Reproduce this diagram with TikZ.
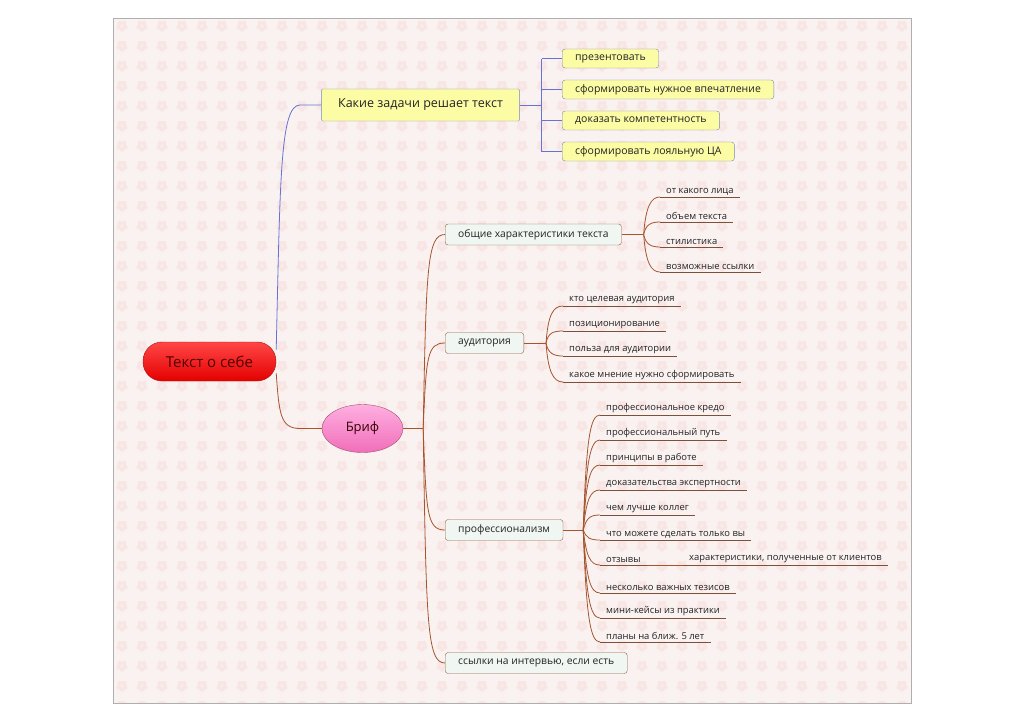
\documentclass[tikz,border=0pt]{standalone}
\usepackage{fontspec}
\setmainfont{Open Sans}
\usetikzlibrary{shapes.geometric,calc}
\definecolor{bgpink}{RGB}{250,242,241}
\definecolor{petal}{RGB}{248,230,229}
\definecolor{framegray}{RGB}{175,175,175}
\definecolor{bluecon}{RGB}{100,115,215}
\definecolor{browncon}{RGB}{165,85,45}
\definecolor{ulcol}{RGB}{125,80,60}
\definecolor{yellowfill}{RGB}{252,252,165}
\definecolor{yellowborder}{RGB}{125,135,175}
\definecolor{mintfill}{RGB}{240,247,242}
\definecolor{boxborder}{RGB}{150,95,65}
\definecolor{txt}{RGB}{35,35,35}
\definecolor{roottop}{RGB}{255,70,70}
\definecolor{rootbot}{RGB}{228,0,0}
\definecolor{rootborder}{RGB}{170,20,20}
\definecolor{roottext}{RGB}{80,0,0}
\definecolor{pinktop}{RGB}{255,175,225}
\definecolor{pinkbot}{RGB}{240,110,185}
\definecolor{pinkborder}{RGB}{160,80,110}
\begin{document}
\begin{tikzpicture}[x=1pt,y=-1pt,
  rootnode/.style={rounded corners=19pt, minimum width=133pt, minimum height=39pt,
    draw=rootborder, top color=roottop, bottom color=rootbot, text=roottext,
    font=\fontsize{15}{17}\selectfont, inner sep=0pt},
  briefnode/.style={ellipse, minimum width=81pt, minimum height=48pt, inner sep=0pt,
    draw=pinkborder, top color=pinktop, bottom color=pinkbot, text=black!80!red,
    font=\fontsize{13}{15}\selectfont},
  mainbox/.style={rounded corners=1pt, draw=yellowborder, fill=yellowfill, text=txt,
    minimum height=32pt, inner xsep=16.5pt, font=\fontsize{12.5}{14}\selectfont},
  ybox/.style={rounded corners=3pt, draw=yellowborder, fill=yellowfill, text=txt,
    minimum height=19pt, inner xsep=13pt, inner ysep=0pt, anchor=west,
    font=\fontsize{10.5}{12}\selectfont},
  gbox/.style={rounded corners=3pt, draw=boxborder, fill=mintfill, text=txt,
    minimum height=21pt, inner xsep=13pt, inner ysep=0pt, anchor=west,
    font=\fontsize{10.3}{12}\selectfont},
  lbl/.style={anchor=south west, inner xsep=6pt, inner ysep=2pt, text=txt,
    font=\fontsize{9.4}{11}\selectfont},
  bcon/.style={draw=bluecon, line width=0.8pt},
  rcon/.style={draw=browncon, line width=0.8pt},
  ul/.style={draw=ulcol, line width=0.8pt}
]
\useasboundingbox (0,0) rectangle (1024,723);
\fill[white] (0,0) rectangle (1024,723);
\fill[bgpink] (113,18) rectangle (911,703);
\begin{scope}
  \clip (113,18) rectangle (911,703);
  \foreach \i in {0,...,40} {
    \foreach \j in {0,...,34} {
      \fill[petal] \foreach \k in {0,...,4} {([shift={(\k*72+90:3.3)}]{122+\i*20},{26+\j*20}) circle (2.5)};
    }
  }
\end{scope}
\draw[framegray] (113,18) rectangle (911,703);

% nodes
\node[rootnode] (root) at (209.5,361.5) {Текст о себе};
\node[mainbox] (q) at (420.5,105) {Какие задачи решает текст};
\node[ybox] (y1) at (562,58.5) {презентовать};
\node[ybox] (y2) at (562,89.5) {сформировать нужное впечатление};
\node[ybox] (y3) at (562,120.5) {доказать компетентность};
\node[ybox] (y4) at (562,151.5) {сформировать лояльную ЦА};

\node[briefnode] (b) at (362.5,428.5) {Бриф};
\node[gbox] (c1) at (445,234.5) {общие характеристики текста};
\node[gbox] (c2) at (445,343) {аудитория};
\node[gbox] (c3) at (445,530) {профессионализм};
\node[gbox] (c4) at (445,663) {ссылки на интервью, если есть};

\node[lbl] (a1) at (660,197) {от какого лица};
\node[lbl] (a2) at (660,222) {объем текста};
\node[lbl] (a3) at (660,247) {стилистика};
\node[lbl] (a4) at (660,272) {возможные ссылки};

\node[lbl] (d1) at (563,306) {кто целевая аудитория};
\node[lbl] (d2) at (563,331) {позиционирование};
\node[lbl] (d3) at (563,356) {польза для аудитории};
\node[lbl] (d4) at (563,382) {какое мнение нужно сформировать};

\node[lbl] (p1) at (600,415) {профессиональное кредо};
\node[lbl] (p2) at (600,440) {профессиональный путь};
\node[lbl] (p3) at (600,465) {принципы в работе};
\node[lbl] (p4) at (600,490) {доказательства экспертности};
\node[lbl] (p5) at (600,515) {чем лучше коллег};
\node[lbl] (p6) at (600,540) {что можете сделать только вы};
\node[lbl] (p7) at (600,565) {отзывы};
\node[lbl] (p7a) at (683,565) {характеристики, полученные от клиентов};
\node[lbl] (p8) at (600,593) {несколько важных тезисов};
\node[lbl] (p9) at (600,618) {мини-кейсы из практики};
\node[lbl] (p10) at (600,642) {планы на ближ. 5 лет};

% underlines
\foreach \n in {a1,a2,a3,a4,d1,d2,d3,d4,p1,p2,p3,p4,p5,p6,p7,p7a,p8,p9,p10}
  \draw[ul] (\n.south west) -- (\n.south east);

% root connectors
\coordinate (qk) at (300,105);
\draw[bcon] (root.10) .. controls +(4,-170) and +(-20,0) .. (qk) -- (q.west);
\coordinate (bk) at (300,428.5);
\draw[rcon] (root.-10) .. controls +(3,40) and +(-20,0) .. (bk) -- (b.west);

% top branch
\draw[bcon] (q.east) -- ++(22,0) coordinate (qj);
\draw[bcon] (qj |- y1.west) -- (qj |- y4.west);
\foreach \n in {y1,y2,y3,y4}
  \draw[bcon] (qj |- \n.west) -- (\n.west);

% brief branch
\draw[rcon] (b.east) -- ++(20,0) coordinate (bj);
\draw[rcon] (bj) .. controls +(3,-160) and +(-18,0) .. (c1.west);
\draw[rcon] (bj) .. controls +(3,-72) and +(-18,0) .. (c2.west);
\draw[rcon] (bj) .. controls +(3,85) and +(-18,0) .. (c3.west);
\draw[rcon] (bj) .. controls +(3,195) and +(-18,0) .. (c4.west);

% общие
\draw[rcon] (c1.east) -- ++(22,0) coordinate (c1j);
\draw[rcon] (c1j) .. controls +(2,-28) and +(-9,0) .. (a1.south west);
\draw[rcon] (c1j) .. controls +(2,-10) and +(-9,0) .. (a2.south west);
\draw[rcon] (c1j) .. controls +(2,10) and +(-9,0) .. (a3.south west);
\draw[rcon] (c1j) .. controls +(2,28) and +(-9,0) .. (a4.south west);

% аудитория
\draw[rcon] (c2.east) -- ++(22,0) coordinate (c2j);
\draw[rcon] (c2j) .. controls +(2,-28) and +(-10,0) .. (d1.south west);
\draw[rcon] (c2j) .. controls +(2,-10) and +(-10,0) .. (d2.south west);
\draw[rcon] (c2j) .. controls +(2,10) and +(-10,0) .. (d3.south west);
\draw[rcon] (c2j) .. controls +(2,28) and +(-10,0) .. (d4.south west);

% профессионализм
\draw[rcon] (c3.east) -- ++(20,0) coordinate (c3j);
\foreach \n/\d in {p1/-90,p2/-68,p3/-50,p4/-30,p5/-12,p6/8,p7/26,p8/48,p9/66,p10/85}
  \draw[rcon] (c3j) .. controls +(3,\d) and +(-10,0) .. (\n.south west);
\draw[rcon] (p7.south east) -- (p7a.south west);
\end{tikzpicture}
\end{document}
